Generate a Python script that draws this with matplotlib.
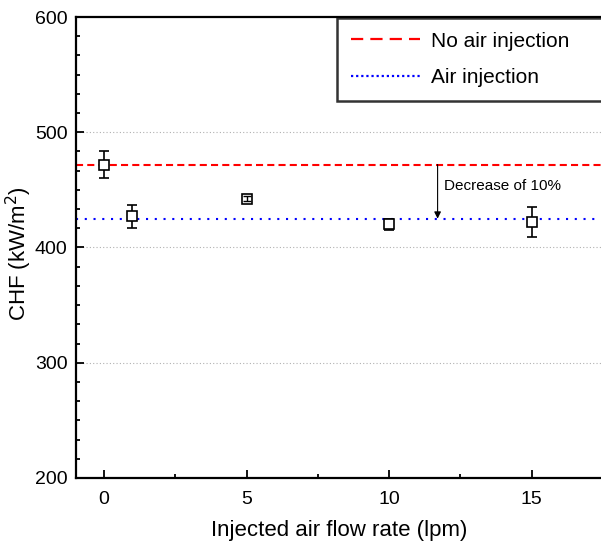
import matplotlib
matplotlib.use("Agg")
import matplotlib.pyplot as plt
from matplotlib.lines import Line2D
from matplotlib.ticker import MultipleLocator, AutoMinorLocator

plt.rcParams['font.family'] = ['Liberation Sans', 'DejaVu Sans']

# Data
flow_rate = [0, 1, 5, 10, 15]
chf = [472, 427, 442.5, 420, 422]
chf_err = [12, 10, 2, 5, 13]
no_air_level = 472
air_level = 425
arrow_x = 11.7
annotation_text = "Decrease of 10%"
legend_labels = ["No air injection", "Air injection"]
x_ticks = [0, 5, 10, 15]
y_ticks = [200, 300, 400, 500, 600]

fig = plt.figure(figsize=(6.01, 5.47), dpi=100)
ax = fig.add_axes([76/601, 1-478/547, 1-76/601, (478-17)/547])

ax.set_xlim(-0.98, 17.43)
ax.set_ylim(200, 600)

ax.axhline(no_air_level, color='#ff0000', linestyle=(0, (3.4, 2.0)), lw=1.5, zorder=2)
ax.axhline(air_level, color='#0000ff', linestyle=(0, (1, 3.2)), lw=1.5, zorder=2)

ax.errorbar(flow_rate, chf, yerr=chf_err, fmt='s', mfc='white', mec='black',
            ms=6.5, mew=1.2, ecolor='black', elinewidth=1.2, capsize=3.5, capthick=1.2,
            zorder=4)
# error bars smaller than the marker are drawn over it
small = [i for i, e in enumerate(chf_err) if e < 3]
ax.errorbar([flow_rate[i] for i in small], [chf[i] for i in small],
            yerr=[chf_err[i] for i in small], fmt='none', ecolor='black',
            elinewidth=1.0, capsize=3.0, capthick=1.0, zorder=5)

ax.annotate("", xy=(arrow_x, air_level), xytext=(arrow_x, no_air_level),
            arrowprops=dict(arrowstyle='-|>', color='black', lw=0.8,
                            mutation_scale=10, shrinkA=0, shrinkB=0))
ax.text(arrow_x + 0.22, 453, annotation_text, fontsize=11, va='center', ha='left')

ax.set_xticks(x_ticks)
ax.set_yticks(y_ticks)
ax.xaxis.set_minor_locator(MultipleLocator(2.5))
ax.yaxis.set_minor_locator(AutoMinorLocator(6))
ax.tick_params(which='both', direction='in', width=1.3, labelsize=14, top=False, right=False)
ax.tick_params(axis='x', which='major', length=6, pad=9)
ax.tick_params(axis='y', which='major', length=6, pad=6)
ax.tick_params(which='minor', length=3)

for s in ['left', 'bottom', 'top']:
    ax.spines[s].set_linewidth(1.6)
ax.spines['right'].set_visible(False)

for yv in [300, 400, 500]:
    ax.axhline(yv, color='#b0b0b0', linestyle=(0, (1, 2)), lw=0.8, zorder=1)

ax.set_xlabel("Injected air flow rate (lpm)", fontsize=16)
ax.set_ylabel("CHF (kW/m$^2$)", fontsize=16)
ax.xaxis.set_label_coords((339 - 76) / 525, -(520 - 478) / 461)
ax.yaxis.set_label_coords((34 - 76) / 525, (478 - 254) / 461)

h1 = Line2D([], [], color='#ff0000', linestyle=(0, (5.5, 3.2)), lw=1.6)
h2 = Line2D([], [], color='#0000ff', linestyle=(0, (1, 1.3)), lw=1.6)
leg = fig.legend([h1, h2], legend_labels, loc='upper left',
                 bbox_to_anchor=(337/601, 1-18/547, (640-337)/601, 0),
                 mode='expand', borderaxespad=0, fontsize=15, frameon=True,
                 fancybox=False, edgecolor='black', handlelength=3.35,
                 handletextpad=0.5, labelspacing=0.85, borderpad=0.65)
leg.get_frame().set_linewidth(1.8)

fig.savefig("out.png", dpi=100)
